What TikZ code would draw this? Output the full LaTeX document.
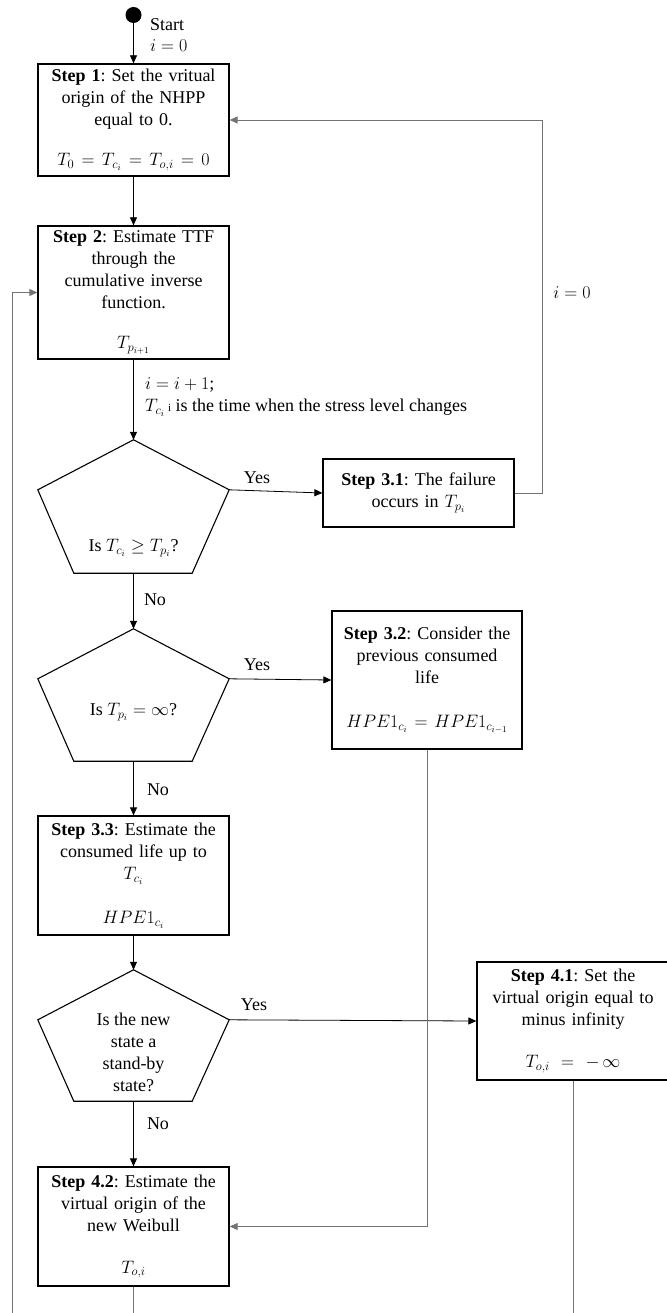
\RequirePackage{fix-cm}
\documentclass[tikz,border=0pt]{standalone}
\usepackage{fontspec}
\setmainfont{Liberation Serif}
\usetikzlibrary{arrows.meta,calc}
\frenchspacing

% draws a squat pentagon inside the invisible frame node #1
\newcommand{\drawpent}[1]{%
  \draw[pentline] (#1.north) -- ($(#1.north east)+(0,50)$)
    -- ($(#1.south east)+(-37,0)$) -- ($(#1.south west)+(36,0)$)
    -- ($(#1.north west)+(0,50)$) -- cycle;
  \coordinate (#1r) at ($(#1.north east)+(0,50)$);
}

\begin{document}
\begin{tikzpicture}[x=1pt,y=-1pt,
  font=\fontsize{18}{22}\selectfont,
  stepbox/.style={draw=black, line width=1.3pt, minimum width=191pt,
    text width=186pt, align=center, inner sep=0pt},
  frame/.style={minimum width=191pt, inner sep=0pt},
  pentline/.style={draw=black, line width=1.1pt, line join=miter},
  lbl/.style={inner sep=0pt},
  flow/.style={draw=black, line width=0.8pt, -{Triangle[length=8pt,width=7pt]}},
  loopflow/.style={draw=black!55, line width=0.9pt, -{Triangle[length=8pt,width=7pt]}},
  loopline/.style={draw=black!55, line width=0.9pt},
]
\useasboundingbox (0,0) rectangle (666,1313);

% start marker
\node[circle, fill=black, minimum size=16pt, inner sep=0pt] (start) at (133.5,15) {};
\node[lbl, anchor=west] (startlbl) at (150,25) {Start};
\node[lbl, anchor=west] (startidx) at (150,46) {$i = 0$};

% process boxes
\node[stepbox, minimum height=112pt] (s1) at (133.5,120)
  {\textbf{Step 1}: Set the vritual\\origin of the NHPP\\equal to 0.\\[18pt]$T_0 = T_{c_i} = T_{o,i} = 0$};
\node[stepbox, minimum height=133pt] (s2) at (133.5,292.5)
  {\textbf{Step 2}: Estimate TTF\\through the\\cumulative inverse\\function.\\[18pt]$T_{p_{i+1}}$};
\node[stepbox, minimum height=68pt] (s31) at (418.5,493)
  {\textbf{Step 3.1}: The failure\\occurs in $T_{p_i}$};
\node[stepbox, minimum height=138pt, minimum width=190pt] (s32) at (427,680)
  {\textbf{Step 3.2}: Consider the\\previous consumed\\life\\[22pt]$HPE1_{c_i} = HPE1_{c_{i-1}}$};
\node[stepbox, minimum height=119pt] (s33) at (133.5,875.5)
  {\textbf{Step 3.3}: Estimate the\\consumed life up to\\$T_{c_i}$\\[22pt]$HPE1_{c_i}$};
\node[stepbox, minimum height=118pt, minimum width=192pt] (s41) at (573,1021)
  {\textbf{Step 4.1}: Set the\\virtual origin equal to\\minus infinity\\[20pt]$T_{o,i} = -\,\infty$};
\node[stepbox, minimum height=119pt] (s42) at (133.5,1226.5)
  {\textbf{Step 4.2}: Estimate the\\virtual origin of the\\new Weibull\\[20pt]$T_{o,i}$};

% decision pentagons
\node[frame, minimum height=133pt] (p1) at (133.5,506.5) {};
\drawpent{p1}
\node[lbl] (p1t) at (133.5,548) {Is $T_{c_i} \geq T_{p_i}$?};
\node[frame, minimum height=132pt] (p2) at (133.5,695) {};
\drawpent{p2}
\node[lbl] (p2t) at (133.5,712) {Is $T_{p_i} = \infty$?};
\node[frame, minimum height=131pt] (p3) at (133.5,1035.5) {};
\drawpent{p3}
\node[lbl, align=center] (p3t) at (133.5,1052) {Is the new\\state a\\stand-by\\state?};

% loop anchors
\coordinate (rloop) at (542,0);
\coordinate (lloop) at (12,1325);
\coordinate (bottom) at (0,1325);

% main flow
\draw[flow] (start) -- (s1.north);
\draw[flow] (s1.south) -- (s2.north);
\draw[flow] (s2.south) -- (p1.north);
\node[lbl, anchor=west, align=left] (incr) at (145,397)
  {$i = i + 1$;\\$T_{c_i}$\,{\fontsize{11}{13}\selectfont i} is the time when the stress level changes};

\draw[flow] (p1r) -- (s31.west);
\node[lbl] (yes1) at (257,478) {Yes};
\draw[flow] (p1.south) -- (p2.north);
\node[lbl] (no1) at (155,600) {No};

\draw[flow] (p2r) -- (s32.west);
\node[lbl] (yes2) at (257,665) {Yes};
\draw[flow] (p2.south) -- (s33.north);
\node[lbl] (no2) at (158,790) {No};

\draw[flow] (s33.south) -- (p3.north);
\draw[flow] (p3r) -- (s41.west);
\node[lbl] (yes3) at (254,1005) {Yes};
\draw[flow] (p3.south) -- (s42.north);
\node[lbl] (no3) at (158,1124) {No};

% feedback connectors
\draw[loopflow] (s31.east) -- (s31.east -| rloop) -- (rloop |- s1.east) -- (s1.east);
\node[lbl] (reset) at (572,293) {$i = 0$};
\draw[loopflow] (s32.south) |- (s42.east);
\draw[loopflow] (lloop) |- (s2.west);
\draw[loopline] (s42.south) -- (s42.south |- bottom);
\draw[loopline] (s41.south) -- (s41.south |- bottom);
\end{tikzpicture}
\end{document}
